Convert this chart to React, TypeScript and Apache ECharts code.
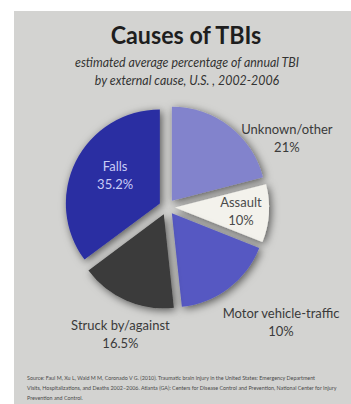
import React, { useEffect, useRef } from "react";
import * as echarts from "echarts";

const categories = ["Unknown/other", "Assault", "Motor vehicle-traffic", "Struck by/against", "Falls"];
const values = [21, 10, 17.3, 16.5, 35.2];
const shownPercent = ["21%", "10%", "10%", "16.5%", "35.2%"];
const sliceColors = ["#8283cc", "#f3f2ec", "#5659c2", "#3a3a3a", "#2b2fa2"];
const labelColors = ["#3a3a3a", "#4a4a4a", "#3a3a3a", "#3a3a3a", "#c9ccf6"];
const labelPositions = ["outside", "inside", "outside", "outside", "inside"];
const labelShift = [
  [45, 21],
  [16, 0],
  [40, 24],
  [4, 23],
  [0, -6],
];

const titleText = "Causes of TBIs";
const subtitleLines = ["estimated average percentage of annual TBI", "by external cause, U.S. , 2002-2006"];
const sourceLines = [
  "Source: Faul M, Xu L, Wald M M, Coronado V G. (2010). Traumatic brain injury in the United States: Emergency Department",
  "Visits, Hospitalizations, and Deaths 2002–2006. Atlanta (GA): Centers for Disease Control and Prevention, National Center for Injury",
  "Prevention and Control.",
];

const FAMILY = "Lato, 'Liberation Sans', sans-serif";

export default function App() {
  const ref = useRef<HTMLDivElement>(null);
  useEffect(() => {
    if (!ref.current) return;
    const chart = echarts.init(ref.current, null, { renderer: "svg" });
    const data = categories.map((name, i) => ({
      name,
      value: values[i],
      selected: true,
      itemStyle: { color: sliceColors[i] },
      label: {
        position: labelPositions[i],
        color: labelColors[i],
        formatter: () => `${name}\n${shownPercent[i]}`,
      },
    }));
    chart.setOption({
      animation: false,
      backgroundColor: "#ffffff",
      graphic: [
        { type: "rect", left: 14, top: 11, shape: { width: 337, height: 393 }, style: { fill: "#d3d3d1" }, z: -10 },
        {
          type: "text",
          x: 186,
          y: 34,
          scaleX: 0.93,
          style: { text: titleText, font: `bold 25px ${FAMILY}`, fill: "#1e1e1e", align: "center", verticalAlign: "middle" },
        },
        {
          type: "text",
          x: 187,
          y: 71,
          scaleX: 0.99,
          style: {
            text: subtitleLines.join("\n"),
            font: `italic 12.5px ${FAMILY}`,
            lineHeight: 18,
            fill: "#333333",
            align: "center",
            verticalAlign: "middle",
          },
        },
        {
          type: "text",
          x: 27,
          y: 373,
          scaleX: 0.96,
          style: {
            text: sourceLines.join("\n"),
            font: `5.6px ${FAMILY}`,
            lineHeight: 10,
            fill: "#4a4a4a",
            align: "left",
            verticalAlign: "top",
          },
        },
      ],
      series: [
        {
          type: "pie",
          center: [167, 207],
          radius: [0, 94],
          startAngle: 90,
          clockwise: true,
          selectedMode: "multiple",
          selectedOffset: 8,
          emphasis: { disabled: true },
          itemStyle: {
            shadowBlur: 8,
            shadowColor: "rgba(0,0,0,0.6)",
            shadowOffsetX: 2,
            shadowOffsetY: 2,
          },
          label: {
            show: true,
            fontFamily: FAMILY,
            fontSize: 13,
            lineHeight: 18,
            align: "center",
            overflow: "none",
          },
          labelLine: { show: false, length: 12, length2: 0 },
          labelLayout: (p: any) => ({
            align: "center",
            dx: labelShift[p.dataIndex][0],
            dy: labelShift[p.dataIndex][1],
          }),
          data,
        },
      ],
    });
    return () => chart.dispose();
  }, []);
  return <div ref={ref} style={{ position: "absolute", left: 0, top: 0, width: 351, height: 404 }} />;
}
